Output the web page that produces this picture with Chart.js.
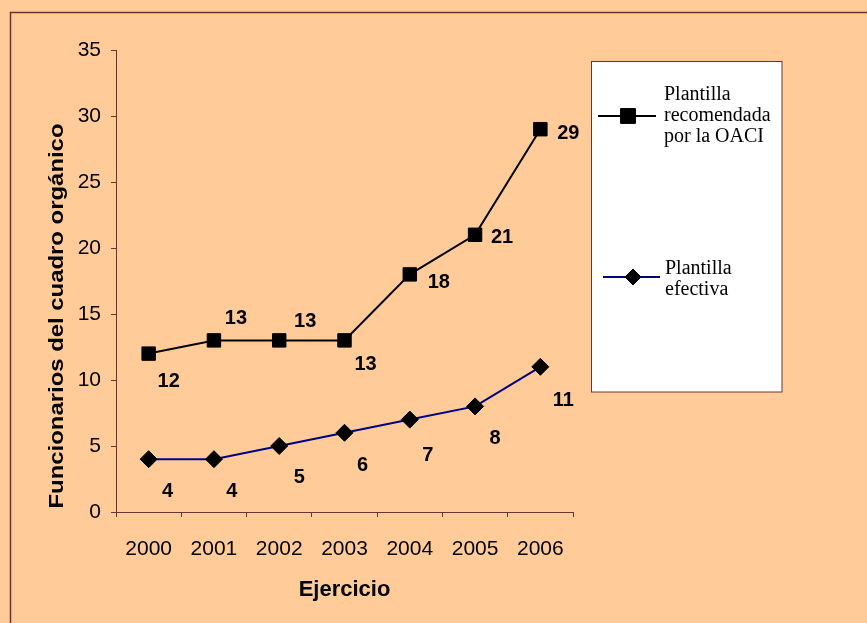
<!DOCTYPE html>
<html>
<head>
<meta charset="utf-8">
<title>Plantilla OACI</title>
<script src="https://cdn.jsdelivr.net/npm/chart.js"></script>
<style>
  html, body { margin: 0; padding: 0; background: #FFCC99; }
  canvas { display: block; }
</style>
</head>
<body>
<canvas id="chart" width="867" height="623"></canvas>
<script>
const years = ['2000', '2001', '2002', '2003', '2004', '2005', '2006'];
const recomendada = [12, 13, 13, 13, 18, 21, 29];
const efectiva = [4, 4, 5, 6, 7, 8, 11];

const legendLines = [
    ['Plantilla', 'recomendada', 'por la OACI'],
    ['Plantilla', 'efectiva']
];
const yTitle = 'Funcionarios del cuadro orgánico';
const xTitle = 'Ejercicio';

// where each value label sits relative to its marker
const labelOffsets = [
    [[20, 28], [22, -22], [26, -19], [21, 24], [29, 8], [27, 3], [28, 4]],
    [[19, 32], [18, 32], [20, 31], [18, 33], [18, 36], [20, 32], [23, 34]]
];

const axisColor = '#6b3434';
const sans = "'Liberation Sans', Arial, sans-serif";
const serif = "'Liberation Serif', 'Times New Roman', serif";

const framePlugin = {
    id: 'frame',
    beforeDraw(chart) {
        const ctx = chart.ctx;
        ctx.save();
        ctx.fillStyle = '#FFCC99';
        ctx.fillRect(0, 0, chart.width, chart.height);
        ctx.strokeStyle = axisColor;
        ctx.lineWidth = 1.5;
        ctx.beginPath();
        ctx.moveTo(10.5, chart.height);
        ctx.lineTo(10.5, 12.5);
        ctx.lineTo(chart.width, 12.5);
        ctx.stroke();
        ctx.restore();
    }
};

const labelsPlugin = {
    id: 'valueLabels',
    afterDatasetsDraw(chart) {
        const ctx = chart.ctx;
        ctx.save();
        ctx.fillStyle = '#000';
        ctx.font = 'bold 20px ' + sans;
        ctx.textAlign = 'center';
        ctx.textBaseline = 'middle';
        chart.data.datasets.forEach((ds, di) => {
            chart.getDatasetMeta(di).data.forEach((pt, i) => {
                const off = labelOffsets[di][i];
                ctx.fillText(String(ds.data[i]), pt.x + off[0], pt.y + off[1]);
            });
        });

        // y axis title, stretched a little along its length
        ctx.translate(57, 316);
        ctx.rotate(-Math.PI / 2);
        ctx.font = 'bold 20px ' + sans;
        const w = ctx.measureText(yTitle).width;
        ctx.scale(385 / w, 1);
        ctx.fillText(yTitle, 0, 0);
        ctx.restore();
    }
};

const legendPlugin = {
    id: 'boxLegend',
    afterDraw(chart) {
        const ctx = chart.ctx;
        const box = { x: 591.5, y: 61.5, w: 190.5, h: 330.5 };
        ctx.save();
        ctx.fillStyle = '#fff';
        ctx.fillRect(box.x, box.y, box.w, box.h);
        ctx.strokeStyle = axisColor;
        ctx.lineWidth = 1;
        ctx.strokeRect(box.x, box.y, box.w, box.h);

        const items = [
            { y: 116, x0: 598, x1: 656, mx: 628, r: 10.5, textX: 664, textY: 95 },
            { y: 277, x0: 603, x1: 660, mx: 633, r: 8, textX: 665, textY: 269 }
        ];
        chart.data.datasets.forEach((ds, di) => {
            const it = items[di];
            ctx.strokeStyle = ds.borderColor;
            ctx.lineWidth = ds.borderWidth;
            ctx.beginPath();
            ctx.moveTo(it.x0, it.y);
            ctx.lineTo(it.x1, it.y);
            ctx.stroke();
            ctx.fillStyle = ds.pointBackgroundColor;
            ctx.strokeStyle = ds.pointBorderColor;
            ctx.lineWidth = 1;
            Chart.helpers.drawPoint(ctx, { pointStyle: ds.pointStyle, radius: it.r, borderWidth: 1 }, it.mx, it.y);

            ctx.fillStyle = '#000';
            ctx.font = '20px ' + serif;
            ctx.textAlign = 'left';
            ctx.textBaseline = 'middle';
            legendLines[di].forEach((line, li) => {
                ctx.fillText(line, it.textX, it.textY + li * 21);
            });
        });
        ctx.restore();
    }
};

new Chart(document.getElementById('chart'), {
    type: 'line',
    data: {
        labels: years,
        datasets: [
            {
                label: legendLines[0].join(' '),
                data: recomendada,
                borderColor: '#000',
                borderWidth: 2,
                pointStyle: 'rect',
                pointRadius: 9.5,
                pointBackgroundColor: '#000',
                pointBorderColor: '#000',
                pointBorderWidth: 1,
                tension: 0
            },
            {
                label: legendLines[1].join(' '),
                data: efectiva,
                borderColor: '#000080',
                borderWidth: 2,
                pointStyle: 'rectRot',
                pointRadius: 8.5,
                pointBackgroundColor: '#000',
                pointBorderColor: '#000',
                pointBorderWidth: 1,
                tension: 0
            }
        ]
    },
    options: {
        responsive: false,
        animation: false,
        devicePixelRatio: 1,
        layout: { padding: { top: 50, right: 294, left: 0, bottom: 0 } },
        plugins: {
            legend: { display: false },
            tooltip: { enabled: false }
        },
        scales: {
            x: {
                type: 'category',
                offset: true,
                grid: {
                    offset: true,
                    drawOnChartArea: false,
                    drawTicks: true,
                    tickLength: 5,
                    color: axisColor
                },
                border: { display: true, color: axisColor, width: 1 },
                ticks: {
                    color: '#000',
                    font: { family: sans, size: 21 },
                    padding: 20,
                    maxRotation: 0
                },
                title: {
                    display: true,
                    text: xTitle,
                    color: '#000',
                    font: { family: sans, size: 22, weight: 'bold' },
                    padding: { top: 0, bottom: 20 }
                },
                afterFit(scale) { scale.height = 111; }
            },
            y: {
                min: 0,
                max: 35,
                grid: {
                    drawOnChartArea: false,
                    drawTicks: true,
                    tickLength: 5,
                    color: axisColor
                },
                border: { display: true, color: axisColor, width: 1 },
                ticks: {
                    stepSize: 5,
                    color: '#000',
                    font: { family: sans, size: 21 },
                    padding: 10
                },
                afterFit(scale) { scale.width = 116; }
            }
        }
    },
    plugins: [framePlugin, labelsPlugin, legendPlugin]
});
</script>
</body>
</html>
